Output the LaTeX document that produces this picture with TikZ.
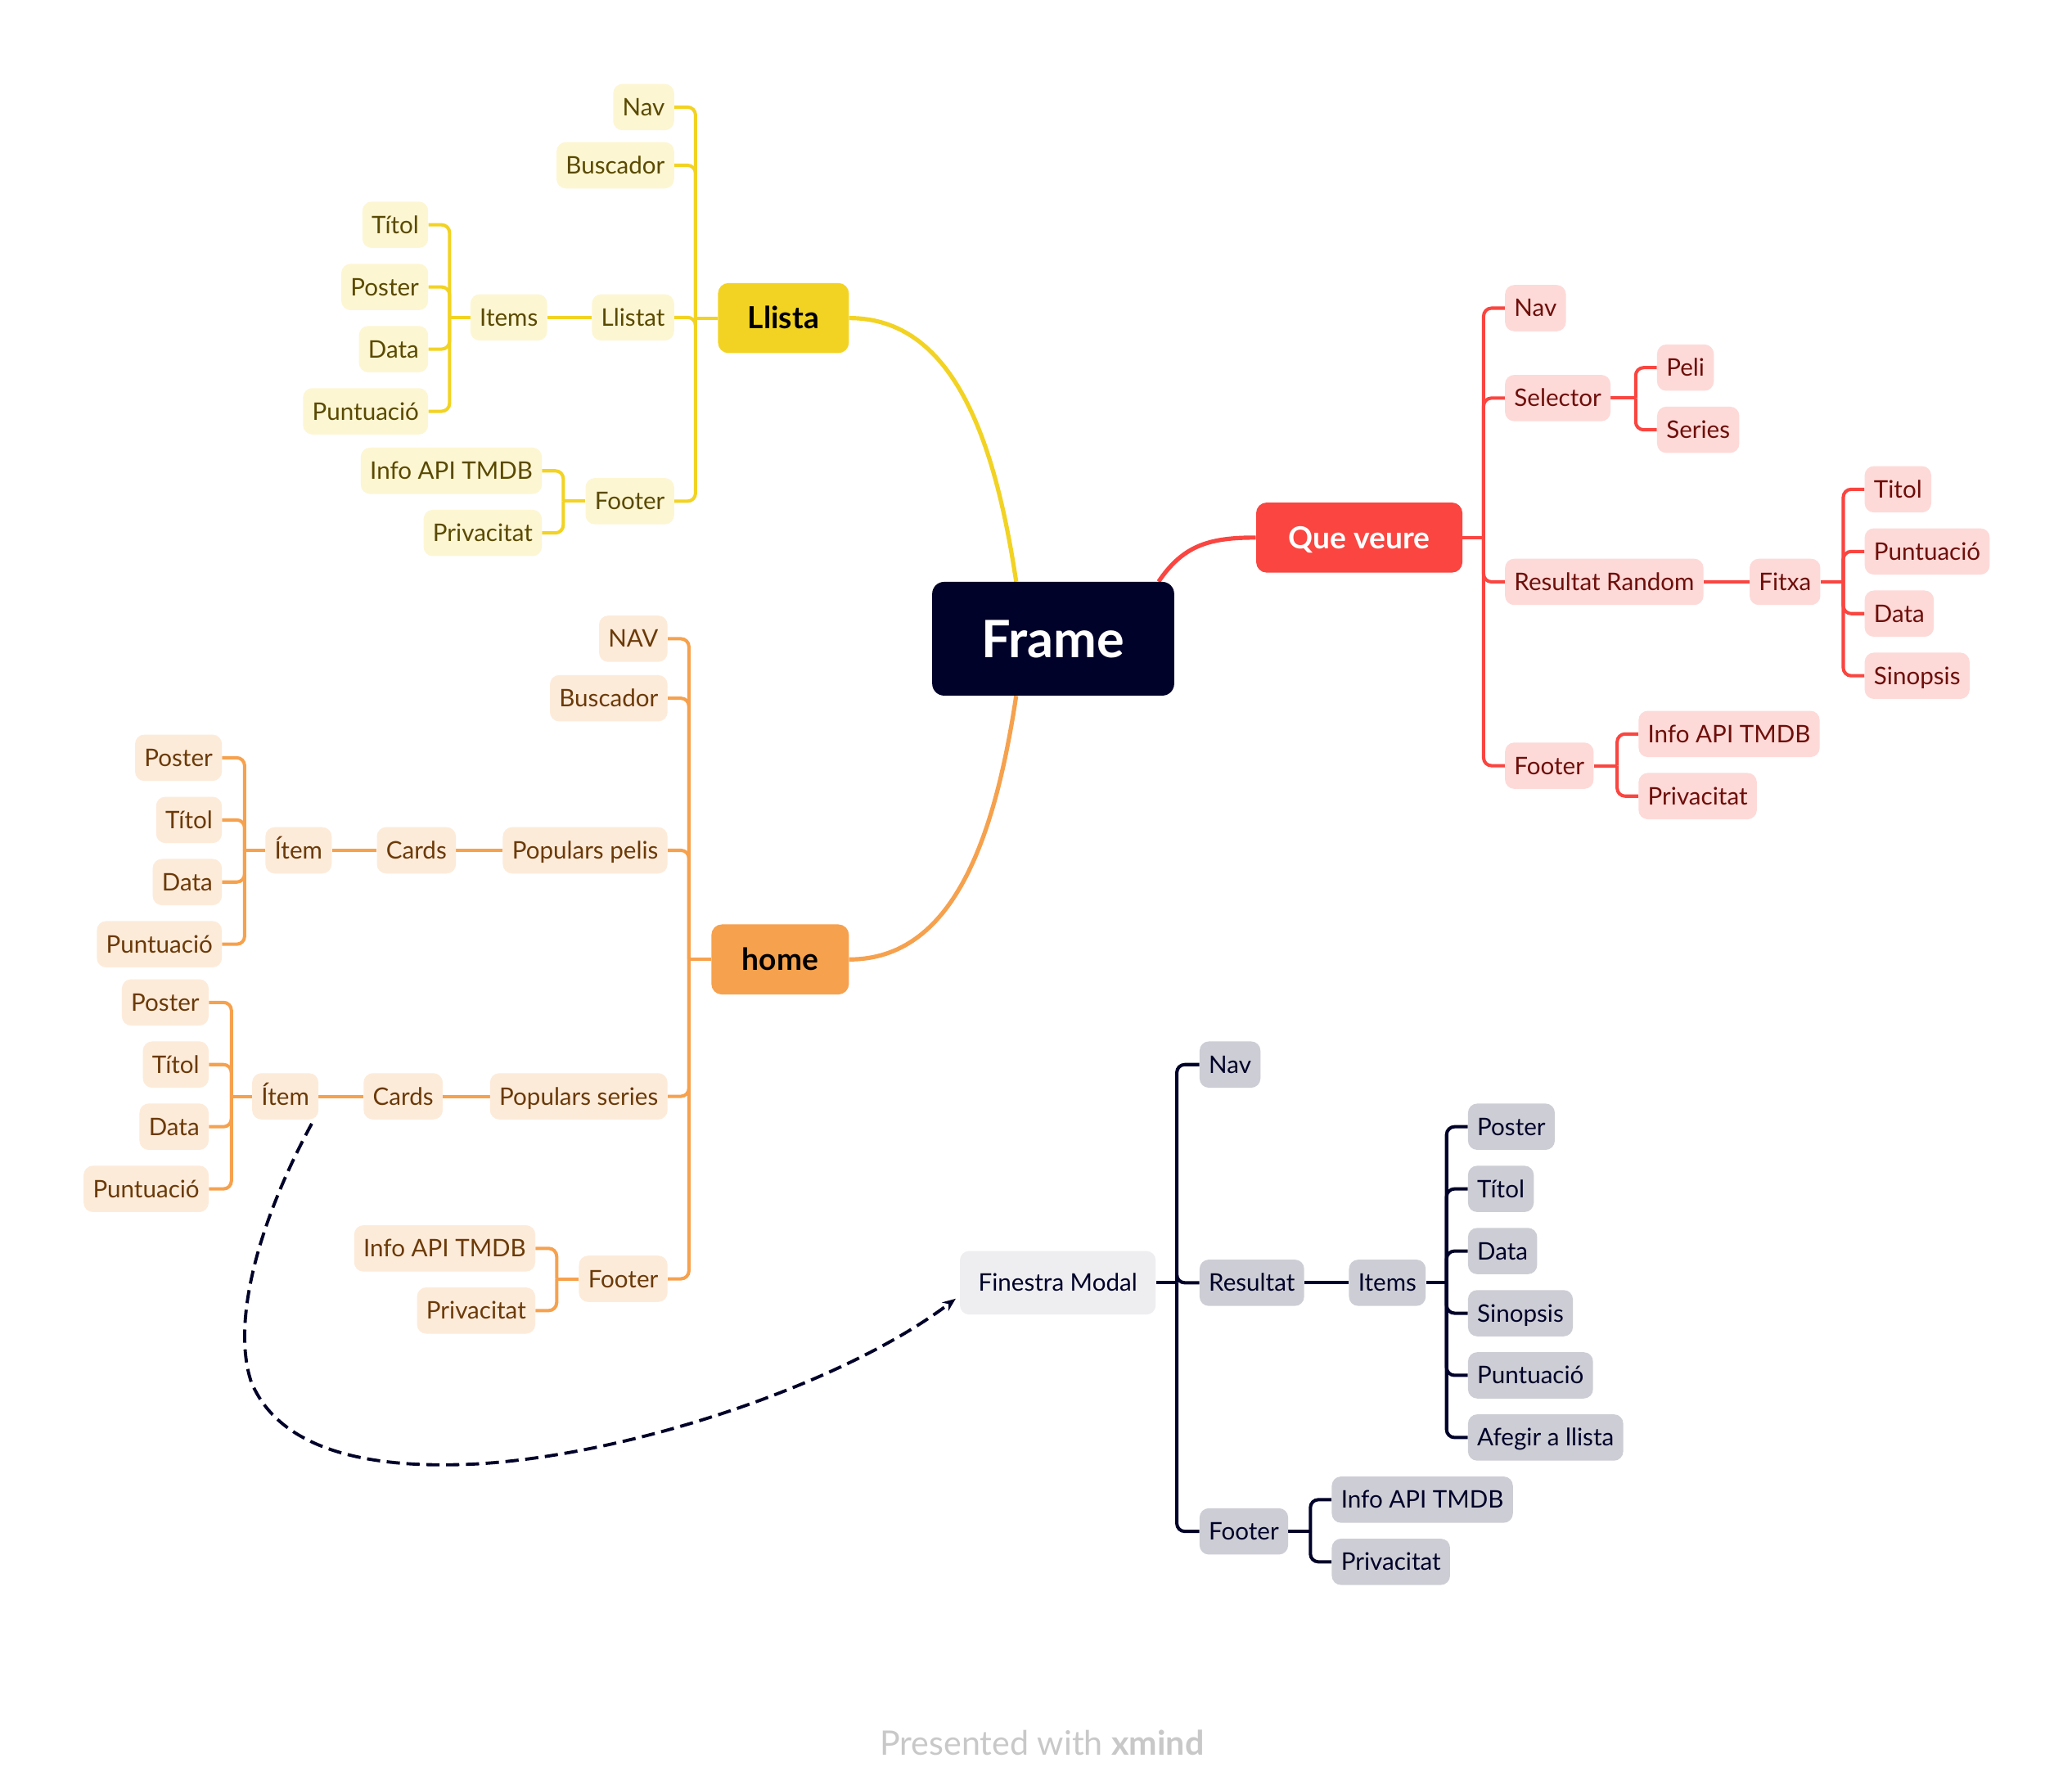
\documentclass[tikz,border=0pt]{standalone}
\usepackage{fontspec}
\setmainfont{Lato}
\usetikzlibrary{backgrounds,arrows.meta}
\definecolor{navy}{HTML}{000229}
\definecolor{ylw}{HTML}{F2D323}
\definecolor{ylwL}{HTML}{FDF6D3}
\definecolor{ylwT}{HTML}{5A4A00}
\definecolor{qred}{HTML}{FA4540}
\definecolor{qredL}{HTML}{FDDAD8}
\definecolor{qredT}{HTML}{6E0E0A}
\definecolor{org}{HTML}{F6A14D}
\definecolor{orgL}{HTML}{FDEBDA}
\definecolor{orgT}{HTML}{6B3A08}
\definecolor{gryM}{HTML}{EEEDF0}
\definecolor{gryL}{HTML}{CDCDD5}
\definecolor{credit}{HTML}{C8C8C8}
\tikzset{
  sub/.style={rounded corners=7pt, minimum height=35pt, inner xsep=7pt, inner ysep=0pt,
    text height=13pt, text depth=0pt, font=\fontsize{18.3}{22}\selectfont},
  ys/.style={sub, fill=ylwL, text=ylwT},
  rs/.style={sub, fill=qredL, text=qredT},
  os/.style={sub, fill=orgL, text=orgT},
  gs/.style={sub, fill=gryL, text=navy},
  mainbox/.style={rounded corners=8pt, minimum height=53pt, inner sep=0pt,
    font=\fontsize{23}{27}\selectfont\bfseries, text height=16.5pt, text depth=0pt},
  yl/.style={draw=ylw, line width=2.5pt, rounded corners=6pt},
  rl/.style={draw=qred, line width=2.5pt, rounded corners=6pt},
  ol/.style={draw=org, line width=2.5pt, rounded corners=6pt},
  gl/.style={draw=navy, line width=2.5pt, rounded corners=6pt},
  curveline/.style={line width=3.2pt},
}
\begin{document}
\begin{tikzpicture}[x=1pt,y=-1pt]
\useasboundingbox (0,0) rectangle (1567,1349.2);

% ---------- main topics ----------
\node[rounded corners=9pt, fill=navy, text=white, minimum width=183pt, minimum height=86pt,
  inner sep=0pt, font=\fontsize{39}{44}\selectfont\bfseries, text height=28pt, text depth=0pt]
  (frame) at (796.5,483) {Frame};
\node[mainbox, fill=ylw, text=black, minimum width=99pt] (llista) at (592.5,240.5) {Llista};
\node[mainbox, fill=qred, text=white, minimum width=156pt] (que) at (1028,406.5) {Que veure};
\node[mainbox, fill=org, text=black, minimum width=104pt] (home) at (590,725.5) {home};
\node[sub, fill=gryM, text=navy, minimum height=48pt, minimum width=148pt] (modal) at (800,970) {Finestra Modal};

% ---------- Llista ----------
\node[ys, anchor=east] (lnav) at (510,81) {Nav};
\node[ys, anchor=east] (lbus) at (510,125) {Buscador};
\node[ys, anchor=east] (llist) at (510,240) {Llistat};
\node[ys, anchor=east] (lfoot) at (510,379) {Footer};
\node[ys, anchor=east] (litems) at (414,240) {Items};
\node[ys, anchor=east] (ltitol) at (324,170) {Títol};
\node[ys, anchor=east] (lposter) at (324,217) {Poster};
\node[ys, anchor=east] (ldata) at (324,264) {Data};
\node[ys, anchor=east] (lpunt) at (324,311) {Puntuació};
\node[ys, anchor=east] (linfo) at (410,356) {Info API TMDB};
\node[ys, anchor=east] (lpriv) at (410,403) {Privacitat};

% ---------- Que veure ----------
\node[rs, anchor=west] (qnav) at (1138,233) {Nav};
\node[rs, anchor=west] (qsel) at (1138,301) {Selector};
\node[rs, anchor=west] (qres) at (1138,440) {Resultat Random};
\node[rs, anchor=west] (qfoot) at (1138,579) {Footer};
\node[rs, anchor=west] (qpeli) at (1253,278) {Peli};
\node[rs, anchor=west] (qseries) at (1253,325) {Series};
\node[rs, anchor=west] (qfitxa) at (1323,440) {Fitxa};
\node[rs, anchor=west] (qtitol) at (1410,370) {Titol};
\node[rs, anchor=west] (qpunt) at (1410,417) {Puntuació};
\node[rs, anchor=west] (qdata) at (1410,464) {Data};
\node[rs, anchor=west] (qsin) at (1410,511) {Sinopsis};
\node[rs, anchor=west] (qinfo) at (1239,555) {Info API TMDB};
\node[rs, anchor=west] (qpriv) at (1239,602) {Privacitat};

% ---------- home ----------
\node[os, anchor=east] (hnav) at (505,483) {NAV};
\node[os, anchor=east] (hbus) at (505,528) {Buscador};
\node[os, anchor=east] (hpp) at (505,643) {Populars pelis};
\node[os, anchor=east] (hps) at (505,829) {Populars series};
\node[os, anchor=east] (hfoot) at (505,967) {Footer};
\node[os, anchor=east] (hpcards) at (345,643) {Cards};
\node[os, anchor=east] (hpitem) at (251,643) {Ítem};
\node[os, anchor=east] (hpposter) at (168,573) {Poster};
\node[os, anchor=east] (hptitol) at (168,620) {Títol};
\node[os, anchor=east] (hpdata) at (168,667) {Data};
\node[os, anchor=east] (hppunt) at (168,714) {Puntuació};
\node[os, anchor=east] (hscards) at (335,829) {Cards};
\node[os, anchor=east] (hsitem) at (241,829) {Ítem};
\node[os, anchor=east] (hsposter) at (158,758) {Poster};
\node[os, anchor=east] (hstitol) at (158,805) {Títol};
\node[os, anchor=east] (hsdata) at (158,852) {Data};
\node[os, anchor=east] (hspunt) at (158,899) {Puntuació};
\node[os, anchor=east] (hinfo) at (405,944) {Info API TMDB};
\node[os, anchor=east] (hpriv) at (405,991) {Privacitat};

% ---------- Finestra Modal ----------
\node[gs, anchor=west] (mnav) at (907,805) {Nav};
\node[gs, anchor=west] (mres) at (907,970) {Resultat};
\node[gs, anchor=west] (mfoot) at (907,1158) {Footer};
\node[gs, anchor=west] (mitems) at (1020,970) {Items};
\node[gs, anchor=west] (mposter) at (1110,852) {Poster};
\node[gs, anchor=west] (mtitol) at (1110,899) {Títol};
\node[gs, anchor=west] (mdata) at (1110,946) {Data};
\node[gs, anchor=west] (msin) at (1110,993) {Sinopsis};
\node[gs, anchor=west] (mpunt) at (1110,1040) {Puntuació};
\node[gs, anchor=west] (mafeg) at (1110,1087) {Afegir a llista};
\node[gs, anchor=west] (minfo) at (1007,1134) {Info API TMDB};
\node[gs, anchor=west] (mpriv) at (1007,1181) {Privacitat};

% credit
\node[font=\fontsize{25.5}{30}\selectfont, text=credit] (credittext) at (788,1318) {Presented with \textbf{xmind}};

% ---------- junctions ----------
\coordinate (jL) at (526,240.5);
\coordinate (jLi) at (340,240);
\coordinate (jLf) at (426,379);
\coordinate (jQ) at (1122,406.5);
\coordinate (jQs) at (1237,301);
\coordinate (jQf) at (1394,440);
\coordinate (jQft) at (1223,579);
\coordinate (jH) at (521,725.5);
\coordinate (jHp) at (185,643);
\coordinate (jHs) at (175,829);
\coordinate (jHf) at (421,967);
\coordinate (jM) at (890,970);
\coordinate (jMi) at (1094,970);
\coordinate (jMf) at (991,1158);

\begin{pgfonlayer}{background}
\fill[white] (0,0) rectangle (1567,1349.2);
% main curves
\draw[ylw, curveline] (llista.east) .. controls (720,240.5) and (752,330) .. ([xshift=-28pt]frame.north);
\draw[org, curveline] (home.east) .. controls (720,725.5) and (752,636) .. ([xshift=-28pt]frame.south);
\draw[qred, curveline] ([xshift=-12pt]frame.north east) .. controls (895,412) and (915,406.5) .. (que.west);

% Llista
\draw[yl] (llista.west) -- (jL);
\foreach \n in {lnav,lbus,llist,lfoot} \draw[yl] (jL) |- (\n.east);
\draw[yl] (llist.west) -- (litems.east);
\draw[yl] (litems.west) -- (jLi);
\foreach \n in {ltitol,lposter,ldata,lpunt} \draw[yl] (jLi) |- (\n.east);
\draw[yl] (lfoot.west) -- (jLf);
\foreach \n in {linfo,lpriv} \draw[yl] (jLf) |- (\n.east);

% Que veure
\draw[rl] (que.east) -- (jQ);
\foreach \n in {qnav,qsel,qres,qfoot} \draw[rl] (jQ) |- (\n.west);
\draw[rl] (qsel.east) -- (jQs);
\foreach \n in {qpeli,qseries} \draw[rl] (jQs) |- (\n.west);
\draw[rl] (qres.east) -- (qfitxa.west);
\draw[rl] (qfitxa.east) -- (jQf);
\foreach \n in {qtitol,qpunt,qdata,qsin} \draw[rl] (jQf) |- (\n.west);
\draw[rl] (qfoot.east) -- (jQft);
\foreach \n in {qinfo,qpriv} \draw[rl] (jQft) |- (\n.west);

% home
\draw[ol] (home.west) -- (jH);
\foreach \n in {hnav,hbus,hpp,hps,hfoot} \draw[ol] (jH) |- (\n.east);
\draw[ol] (hpp.west) -- (hpcards.east);
\draw[ol] (hpcards.west) -- (hpitem.east);
\draw[ol] (hpitem.west) -- (jHp);
\foreach \n in {hpposter,hptitol,hpdata,hppunt} \draw[ol] (jHp) |- (\n.east);
\draw[ol] (hps.west) -- (hscards.east);
\draw[ol] (hscards.west) -- (hsitem.east);
\draw[ol] (hsitem.west) -- (jHs);
\foreach \n in {hsposter,hstitol,hsdata,hspunt} \draw[ol] (jHs) |- (\n.east);
\draw[ol] (hfoot.west) -- (jHf);
\foreach \n in {hinfo,hpriv} \draw[ol] (jHf) |- (\n.east);

% Modal
\draw[gl] (modal.east) -- (jM);
\foreach \n in {mnav,mres,mfoot} \draw[gl] (jM) |- (\n.west);
\draw[gl] (mres.east) -- (mitems.west);
\draw[gl] (mitems.east) -- (jMi);
\foreach \n in {mposter,mtitol,mdata,msin,mpunt,mafeg} \draw[gl] (jMi) |- (\n.west);
\draw[gl] (mfoot.east) -- (jMf);
\foreach \n in {minfo,mpriv} \draw[gl] (jMf) |- (\n.west);

% dashed relation
\draw[navy, line width=2.4pt, dash pattern=on 10pt off 5pt, -{Stealth[length=10pt,width=8pt]}]
  ([xshift=20pt,yshift=-3pt]hsitem.south) .. controls (195,925) and (175,1000) .. (190,1045)
  .. controls (215,1105) and (300,1110) .. (360,1107)
  .. controls (480,1100) and (640,1045) .. ([xshift=-3pt,yshift=-12pt]modal.west);
\end{pgfonlayer}
\end{tikzpicture}
\end{document}
